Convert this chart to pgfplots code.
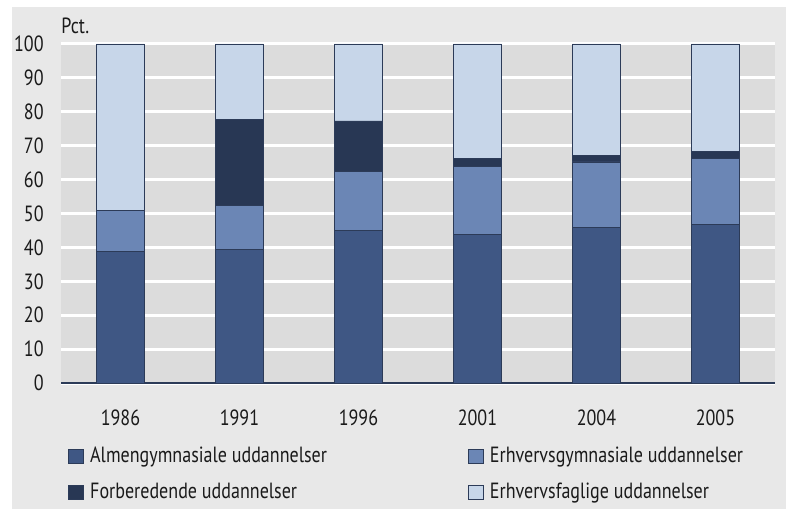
\documentclass[border=0pt]{standalone}
\usepackage{fontspec}
\setmainfont[FakeStretch=0.82]{PT Sans}
\usepackage{pgfplots}
\pgfplotsset{compat=1.18}
\definecolor{panel}{HTML}{E8E8E8}
\definecolor{plotbg}{HTML}{DCDCDC}
\definecolor{alm}{HTML}{3F5784}
\definecolor{ehg}{HTML}{6B86B5}
\definecolor{forb}{HTML}{283754}
\definecolor{ehf}{HTML}{C7D6E9}
\definecolor{edge}{HTML}{2C3B58}
\definecolor{txt}{HTML}{1A1A1A}

\begin{document}
\fontsize{11}{13}\selectfont
\begin{tikzpicture}[x=1pt,y=1pt]
\path[use as bounding box] (0,0) rectangle (393,254.5);
\fill[panel] (6,0) rectangle (393,251);
\begin{axis}[
    at={(30.5pt,63pt)}, anchor=south west,
    scale only axis, width=357pt, height=169.5pt,
    xmin=-0.5, xmax=5.5, ymin=0, ymax=100,
    ybar stacked, bar width=24pt,
    xtick=data, xticklabels={1986,1991,1996,2001,2004,2005},
    ytick={0,10,...,100},
    axis background/.style={fill=plotbg},
    axis x line*=bottom, axis y line*=left,
    x axis line style={draw=edge, line width=0.6pt, -},
    y axis line style={draw=none},
    major tick length=0pt,
    ymajorgrids, grid style={white, line width=1.5pt},
    tick label style={text=txt, inner sep=0pt},
    xticklabel style={anchor=center, yshift=-17.3pt},
    yticklabel style={anchor=east, xshift=-8.5pt},
    /pgf/number format/assume math mode=true,
    every axis plot/.append style={draw=edge, line width=0.4pt},
    legend columns=2,
    legend cell align=left,
    legend image code/.code={\draw[#1] (0pt,-3.6pt) rectangle (7.2pt,3.6pt); \path (10.5pt,0pt);},
    legend style={at={(rel axis cs:0.0098,-0.188)}, anchor=north west,
        draw=none, fill=none, inner sep=0pt, column sep=0pt, row sep=8.5pt,
        nodes={inner sep=0pt, text=txt}},
]
\addplot[fill=alm] coordinates {(0,38.7) (1,39.4) (2,45.1) (3,43.9) (4,45.8) (5,46.8)};
\addlegendentry{\makebox[189pt][l]{Almengymnasiale uddannelser}}
\addplot[fill=ehg] coordinates {(0,12.1) (1,12.9) (2,17.4) (3,20.1) (4,19.4) (5,19.5)};
\addlegendentry{Erhvervsgymnasiale uddannelser}
\addplot[fill=forb] coordinates {(0,0) (1,25.5) (2,14.8) (3,2.2) (4,2.0) (5,1.9)};
\addlegendentry{\makebox[189pt][l]{Forberedende uddannelser}}
\addplot[fill=ehf] coordinates {(0,49.2) (1,22.2) (2,22.7) (3,33.8) (4,32.8) (5,31.8)};
\addlegendentry{Erhvervsfaglige uddannelser}
\end{axis}
\node[anchor=west, inner sep=0pt, text=txt] at (30.5,241.5) {Pct.};
\end{tikzpicture}
\end{document}
